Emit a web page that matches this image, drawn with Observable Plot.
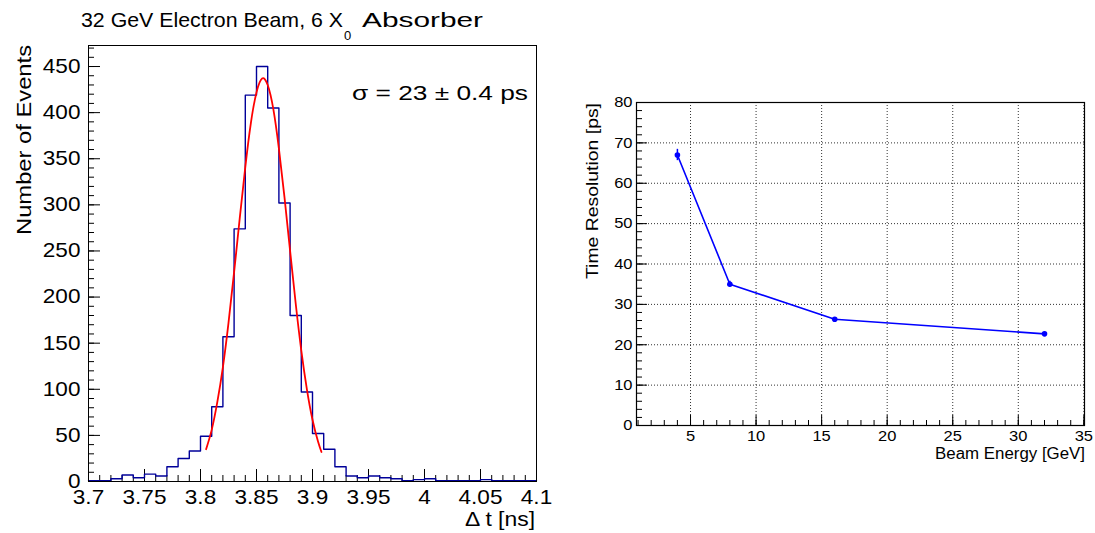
<!DOCTYPE html>
<html><head><meta charset="utf-8">
<script src="https://cdn.jsdelivr.net/npm/d3@7"></script>
<script src="https://cdn.jsdelivr.net/npm/@observablehq/plot@0.6"></script>
<style>
html,body{margin:0;padding:0;background:#fff;}
#wrap{position:relative;width:1095px;height:533px;overflow:hidden;}
#wrap svg{position:absolute;top:0;}
</style></head><body><div id="wrap"></div>
<script>
// ---------- data: left histogram ----------
const binLow = [3.70,3.71,3.72,3.73,3.74,3.75,3.76,3.77,3.78,3.79,
                3.80,3.81,3.82,3.83,3.84,3.85,3.86,3.87,3.88,3.89,
                3.90,3.91,3.92,3.93,3.94,3.95,3.96,3.97,3.98,3.99,
                4.00,4.01,4.02,4.03,4.04,4.05,4.06,4.07,4.08,4.09];
const binCount = [1,1,3,7,4,8,6,16,25,33,
                  49,81,157,274,419,450,405,302,180,97,
                  52,35,16,6,4,6,4,3,1,2,
                  3,1,1,1,1,2,1,1,1,1];
const histEnd = 4.10;
// gaussian fit curve
const fitX = [3.805,3.810,3.815,3.820,3.825,3.830,3.835,3.840,3.845,3.850,3.855,3.860,3.865,3.870,3.875,3.880,3.885,3.890,3.895,3.900,3.905,3.908];
const fitY = [35,56,86,124,172,227,285,341,389,422,437,430,404,361,308,250,193,142,100,67,43,32];
// ---------- data: right graph ----------
const beamEnergy = [4, 8, 16, 32];
const timeRes = [67.0, 35.0, 26.3, 22.7];
const timeResErr = [1.4, 0.7, 0.4, 0.4];

// ---------- texts ----------
const leftTitleMain = "32 GeV Electron Beam, 6 X";
const leftTitleSub = "0";
const leftTitleEnd = "Absorber";
const leftYLabel = "Number of Events";
const leftXLabel = "\u0394 t [ns]";
const sigmaText = "\u03c3 = 23 \u00b1 0.4 ps";
const rightYLabel = "Time Resolution [ps]";
const rightXLabel = "Beam Energy [GeV]";

const FONT = '"Liberation Sans", Arial, Helvetica, sans-serif';
const wrap = document.getElementById("wrap");

function stretchText(svg, s) {
  d3.select(svg).selectAll("text").each(function() {
    const ax = parseFloat(this.getAttribute("x")) || 0;
    const t = this.getAttribute("transform") || "";
    this.setAttribute("transform", `${t} translate(${ax},0) scale(${s},1) translate(${-ax},0)`);
  });
}
const fmtNum = d => String(+d.toFixed(2));

// ---------- left plot ----------
const LW = 560, LH = 533;
const L = {left: 88, right: 536, top: 45, bottom: 481};
const LpW = L.right - L.left, LpH = L.bottom - L.top;
const xDomL = [3.7, 4.1], yDomL = [0, 472.8];
const histData = binLow.map((x, i) => ({x, y: binCount[i]}));
histData.push({x: histEnd, y: binCount[binCount.length - 1]});
const fitData = fitX.map((x, i) => ({x, y: fitY[i]}));

const leftPlot = Plot.plot({
  width: LW, height: LH,
  marginLeft: L.left, marginRight: LW - L.right, marginTop: L.top, marginBottom: LH - L.bottom,
  style: {fontFamily: FONT, fontSize: "20px", color: "#000", background: "none", overflow: "visible"},
  x: {domain: xDomL, ticks: 8, tickSize: 0, tickPadding: 8, tickFormat: fmtNum, label: null},
  y: {domain: yDomL, ticks: 10, tickSize: 0, tickPadding: 8, label: null},
  marks: [
    Plot.tickX(d3.ticks(...xDomL, 40), {x: d => d, stroke: "#000", insetTop: LpH - 6}),
    Plot.tickX(d3.ticks(...xDomL, 8), {x: d => d, stroke: "#000", insetTop: LpH - 12}),
    Plot.tickY(d3.ticks(...yDomL, 47), {y: d => d, stroke: "#000", insetRight: LpW - 6}),
    Plot.tickY(d3.ticks(...yDomL, 10), {y: d => d, stroke: "#000", insetRight: LpW - 12}),
    Plot.line(histData, {x: "x", y: "y", curve: "step-after", stroke: "#000099", strokeWidth: 1.4}),
    Plot.line(fitData, {x: "x", y: "y", curve: "natural", stroke: "#ff0000", strokeWidth: 1.8}),
    Plot.frame({stroke: "#000", strokeWidth: 1})
  ]
});
leftPlot.style.left = "0px";
stretchText(leftPlot, 1.13);
wrap.appendChild(leftPlot);

// ---------- right plot ----------
const RX0 = 560, RW = 535, RH = 533;
const R = {left: 76, right: 524, top: 102, bottom: 425};
const RpW = R.right - R.left, RpH = R.bottom - R.top;
const xDomR = [0.88, 35.05], yDomR = [0, 80];
const pts = beamEnergy.map((e, i) => ({e, r: timeRes[i], err: timeResErr[i]}));

const rightPlot = Plot.plot({
  width: RW, height: RH,
  marginLeft: R.left, marginRight: RW - R.right, marginTop: R.top, marginBottom: RH - R.bottom,
  style: {fontFamily: FONT, fontSize: "15px", color: "#000", background: "none", overflow: "visible"},
  x: {domain: xDomR, ticks: 7, tickSize: 0, tickPadding: 5, label: null},
  y: {domain: yDomR, ticks: 8, tickSize: 0, tickPadding: 4, label: null},
  marks: [
    Plot.ruleX(d3.ticks(...xDomR, 7), {x: d => d, stroke: "#333", strokeDasharray: "1,2"}),
    Plot.ruleY(d3.ticks(...yDomR, 8), {y: d => d, stroke: "#333", strokeDasharray: "1,2"}),
    Plot.tickX(d3.ticks(...xDomR, 34), {x: d => d, stroke: "#000", insetTop: RpH - 5}),
    Plot.tickX(d3.ticks(...xDomR, 7), {x: d => d, stroke: "#000", insetTop: RpH - 10}),
    Plot.tickY(d3.ticks(...yDomR, 40), {y: d => d, stroke: "#000", insetRight: RpW - 6}),
    Plot.tickY(d3.ticks(...yDomR, 8), {y: d => d, stroke: "#000", insetRight: RpW - 11}),
    Plot.ruleX(pts, {x: "e", y1: d => d.r - d.err, y2: d => d.r + d.err, stroke: "#0000ff", strokeWidth: 1.5}),
    Plot.line(pts, {x: "e", y: "r", stroke: "#0000ff", strokeWidth: 1.6}),
    Plot.dot(pts, {x: "e", y: "r", r: 2.8, fill: "#0000ff", stroke: "none"}),
    Plot.frame({stroke: "#000", strokeWidth: 1.2})
  ]
});
rightPlot.style.left = RX0 + "px";
stretchText(rightPlot, 1.1);
wrap.appendChild(rightPlot);

// ---------- overlay texts ----------
const ov = d3.select(wrap).append("svg")
  .attr("width", 1095).attr("height", 533)
  .style("left", "0px").style("pointer-events", "none")
  .attr("font-family", FONT).attr("fill", "#000");

function txt(s, x, y, size, opts = {}) {
  const t = ov.append("text").attr("x", 0).attr("y", 0).attr("font-size", size)
    .attr("text-anchor", opts.anchor || "start")
    .attr("transform", `translate(${x},${y})${opts.rotate ? ` rotate(${opts.rotate})` : ""}`)
    .text(s);
  if (opts.len) t.attr("textLength", opts.len).attr("lengthAdjust", "spacingAndGlyphs");
  return t;
}
txt(leftTitleMain, 81, 27, 21, {len: 262});
txt(leftTitleSub, 344, 40, 13);
txt(leftTitleEnd, 362, 27, 21, {len: 121});
txt(leftYLabel, 31, 45, 21, {anchor: "end", rotate: -90, len: 190});
txt(leftXLabel, 535, 526, 20, {anchor: "end", len: 70});
txt(sigmaText, 352, 99.5, 21, {len: 176});
txt(rightYLabel, 598, 103, 16.5, {anchor: "end", rotate: -90, len: 176});
txt(rightXLabel, 1085, 459, 15.8, {anchor: "end", len: 150});
</script></body></html>
